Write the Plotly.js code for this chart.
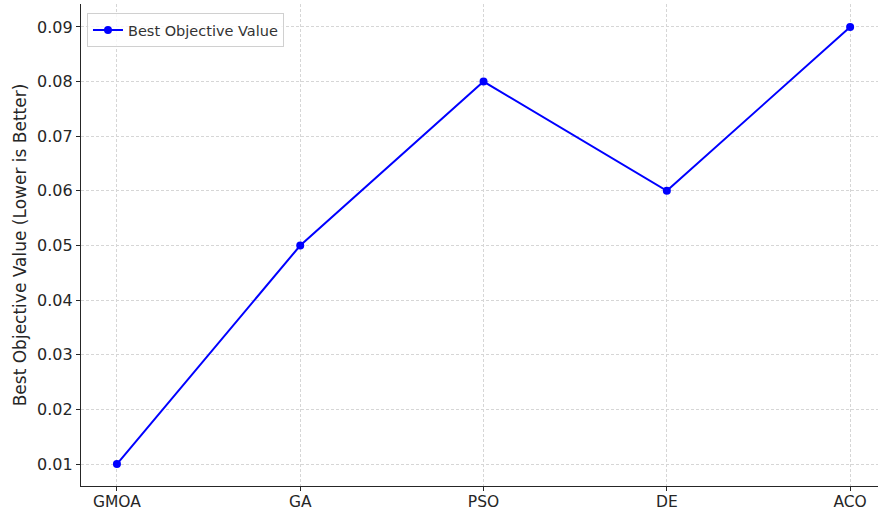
<!DOCTYPE html>
<html>
<head>
<meta charset="utf-8">
<script src="https://cdn.plot.ly/plotly-3.0.1.min.js"></script>
<style>html,body{margin:0;padding:0;background:#fff;}</style>
</head>
<body>
<div id="chart" style="width:878px;height:512px;"></div>
<script>
const algorithms = ["GMOA", "GA", "PSO", "DE", "ACO"];
const bestValues = [0.01, 0.05, 0.08, 0.06, 0.09];
const yTicks = [0.01, 0.02, 0.03, 0.04, 0.05, 0.06, 0.07, 0.08, 0.09];

const trace = {
  x: algorithms,
  y: bestValues,
  type: "scatter",
  mode: "lines+markers",
  name: "Best Objective Value",
  line: {color: "#0000ff", width: 2},
  marker: {color: "#0000ff", size: 8}
};

const layout = {
  width: 878, height: 512,
  margin: {l: 81, r: 0, t: 4, b: 26},
  paper_bgcolor: "#fff", plot_bgcolor: "#fff",
  font: {family: "DejaVu Sans", color: "#262626"},
  showlegend: true,
  legend: {
    x: 0.0075, y: 0.981, xanchor: "left", yanchor: "top",
    bgcolor: "rgba(255,255,255,0.8)", bordercolor: "#d0d0d0", borderwidth: 1,
    font: {size: 14.5, family: "DejaVu Sans", color: "#333"},
    itemwidth: 30
  },
  xaxis: {
    type: "category",
    range: [-0.196, 4.152],
    showgrid: true, gridcolor: "#d6d6d6", griddash: "3px,2px", gridwidth: 1,
    showline: true, linecolor: "#262626", linewidth: 1.2,
    ticks: "outside", ticklen: 4, tickcolor: "#262626",
    ticklabelstandoff: -3,
    tickfont: {size: 15.5, family: "DejaVu Sans", color: "#262626"},
    zeroline: false, mirror: false
  },
  yaxis: {
    range: [0.00598, 0.0942],
    tickvals: yTicks,
    ticktext: yTicks.map(v => v.toFixed(2)),
    showgrid: true, gridcolor: "#d6d6d6", griddash: "3px,2px", gridwidth: 1,
    showline: true, linecolor: "#262626", linewidth: 1.2,
    ticks: "outside", ticklen: 4, tickcolor: "#262626",
    tickfont: {size: 16, family: "DejaVu Sans", color: "#262626"},
    zeroline: false,
    title: {text: "Best Objective Value (Lower is Better)", font: {size: 17, family: "DejaVu Sans", color: "#262626"}, standoff: 6}
  }
};

Plotly.newPlot("chart", [trace], layout, {displayModeBar: false, staticPlot: true});
</script>
</body>
</html>
